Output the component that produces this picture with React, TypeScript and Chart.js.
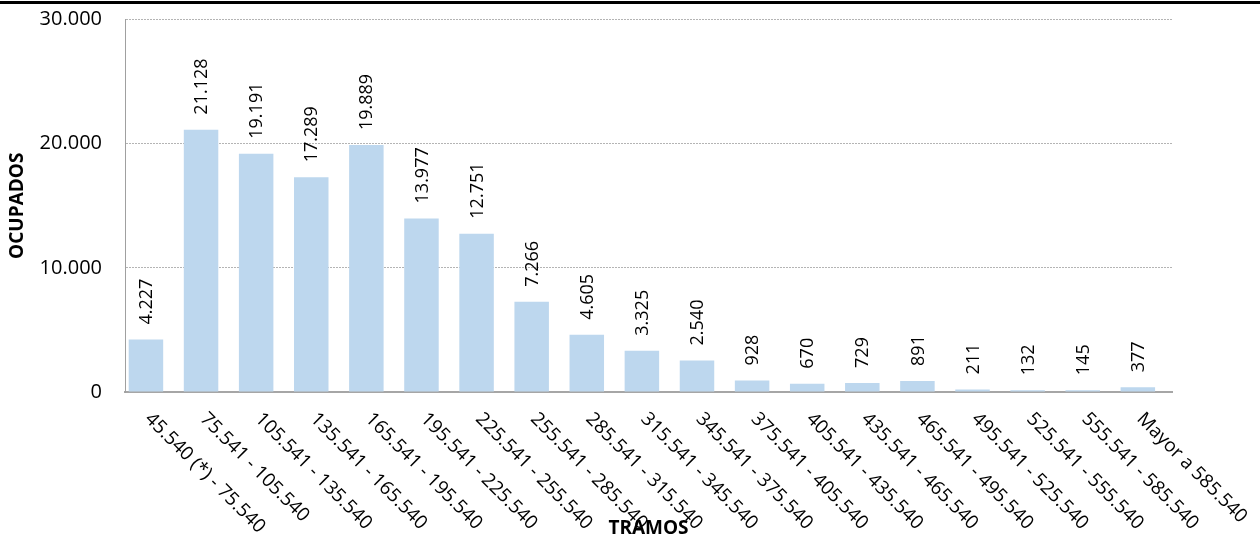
import React, { useEffect, useRef } from "react";
import { Chart, registerables } from "chart.js";

Chart.register(...registerables);

const categories = [
  "45.540 (*) - 75.540",
  "75.541 - 105.540",
  "105.541 - 135.540",
  "135.541 - 165.540",
  "165.541 - 195.540",
  "195.541 - 225.540",
  "225.541 - 255.540",
  "255.541 - 285.540",
  "285.541 - 315.540",
  "315.541 - 345.540",
  "345.541 - 375.540",
  "375.541 - 405.540",
  "405.541 - 435.540",
  "435.541 - 465.540",
  "465.541 - 495.540",
  "495.541 - 525.540",
  "525.541 - 555.540",
  "555.541 - 585.540",
  "Mayor a 585.540",
];

const ocupados = [
  4227, 21128, 19191, 17289, 19889, 13977, 12751, 7266, 4605, 3325, 2540, 928,
  670, 729, 891, 211, 132, 145, 377,
];

const yTickValues = [0, 10000, 20000, 30000];
const yTitle = "OCUPADOS";
const xTitle = "TRAMOS";

const FONT = "'Open Sans', Lato, sans-serif";
const TEXT = "#000";

function fmt(v: number): string {
  return String(Math.round(v)).replace(/\B(?=(\d{3})+(?!\d))/g, ".");
}

const valueLabels = {
  id: "valueLabels",
  afterDatasetsDraw(chart: any) {
    const ctx = chart.ctx as CanvasRenderingContext2D;
    const meta = chart.getDatasetMeta(0);
    ctx.save();
    ctx.font = `18px ${FONT}`;
    ctx.fillStyle = TEXT;
    ctx.textAlign = "left";
    ctx.textBaseline = "middle";
    meta.data.forEach((bar: any, i: number) => {
      const { x, y } = bar.getProps(["x", "y"], true);
      ctx.save();
      ctx.translate(x + 1, y - 15);
      ctx.rotate(-Math.PI / 2);
      ctx.fillText(fmt(ocupados[i]), 0, 0);
      ctx.restore();
    });
    ctx.restore();
  },
};

const slantedLabels = {
  id: "slantedLabels",
  beforeDraw(chart: any) {
    const ctx = chart.ctx as CanvasRenderingContext2D;
    const xs = chart.scales.x;
    ctx.save();
    ctx.font = `19px ${FONT}`;
    ctx.fillStyle = TEXT;
    ctx.textAlign = "left";
    ctx.textBaseline = "middle";
    categories.forEach((c, i) => {
      const px = xs.getPixelForValue(i);
      ctx.save();
      ctx.translate(px + 2, xs.top + 24);
      ctx.rotate(Math.PI / 4);
      ctx.fillText(c, 0, 0);
      ctx.restore();
    });
    ctx.restore();
  },
};

export default function App() {
  const canvasRef = useRef<HTMLCanvasElement | null>(null);

  useEffect(() => {
    if (!canvasRef.current) return;
    const chart = new Chart(canvasRef.current, {
      type: "bar",
      data: {
        datasets: [
          {
            label: yTitle,
            data: categories.map((_, i) => ({ x: i, y: ocupados[i] })) as any,
            backgroundColor: "#BDD7EE",
            borderWidth: 0,
            categoryPercentage: 1,
            barPercentage: 0.626,
          },
        ],
      },
      options: {
        animation: false,
        responsive: false,
        devicePixelRatio: 1,
        layout: { padding: { top: 19.5, right: 88, left: 0, bottom: 0 } },
        plugins: {
          legend: { display: false },
          tooltip: { enabled: false },
        },
        scales: {
          x: {
            type: "linear",
            offset: false,
            min: -0.38,
            max: categories.length - 0.38,
            grid: { display: false },
            border: { display: true, color: "#a6a6a6", width: 2 },
            ticks: { display: false },
            title: {
              display: true,
              text: xTitle,
              color: TEXT,
              font: { family: FONT, size: 19, weight: "bold" },
              padding: { top: 0, bottom: 0 },
            },
            afterBuildTicks(scale: any) {
              scale.ticks = categories.map((_, i) => ({ value: i }));
            },
            afterFit(scale: any) {
              scale.height = 148;
              scale.paddingLeft = 0;
              scale.paddingRight = 0;
            },
          },
          y: {
            min: 0,
            max: 30000,
            grid: {
              color: "#b4b4b4",
              lineWidth: 1,
              drawTicks: false,
            },
            border: { display: true, color: "#a0a0a0", width: 1, dash: [2, 1] } as any,
            ticks: {
              padding: 23,
              color: TEXT,
              font: { family: FONT, size: 20 },
              callback: (v: any) => fmt(Number(v)),
            },
            afterBuildTicks(scale: any) {
              scale.ticks = yTickValues.map((v) => ({ value: v }));
            },
            title: {
              display: true,
              text: yTitle,
              color: TEXT,
              font: { family: FONT, size: 19, weight: "bold" },
              padding: { top: 6, bottom: 0 },
            },
            afterFit(scale: any) {
              scale.width = 125;
              scale.paddingTop = 0;
              scale.paddingBottom = 0;
            },
          },
        },
      },
      plugins: [valueLabels, slantedLabels],
    });
    return () => chart.destroy();
  }, []);

  return (
    <div style={{ position: "fixed", left: 0, top: 0, width: 1260, height: 540, background: "#fff" }}>
      <canvas ref={canvasRef} width={1260} height={540} style={{ display: "block" }} />
      <div style={{ position: "absolute", left: 0, top: 1, width: 1260, height: 2.5, background: "#000" }} />
    </div>
  );
}
